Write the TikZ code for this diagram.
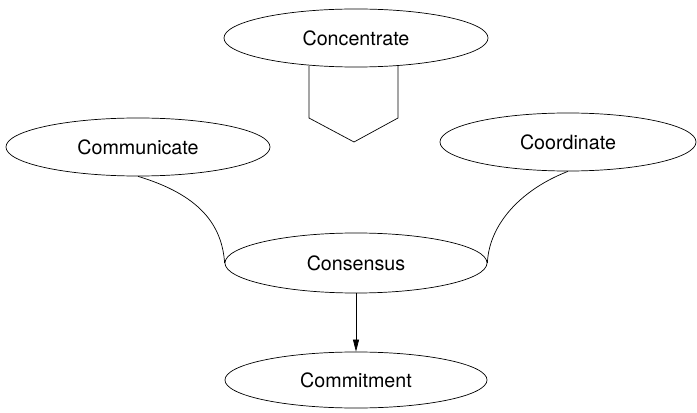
\documentclass[tikz,border=0pt]{standalone}
\usepackage{fontspec}
\setmainfont{TeX Gyre Heros}
\usepackage{xcolor}
\usetikzlibrary{shapes.geometric,arrows.meta}

\begin{document}
\begin{tikzpicture}[x=0.025cm,y=-0.025cm,line width=0.5pt,
  idea/.style={ellipse,draw,inner sep=0pt,minimum width=6.6cm,minimum height=1.45cm,
    font=\fontsize{14}{17}\selectfont}]
  \useasboundingbox (0,0) rectangle (697,413);
  \node[idea] (conc) at (356,38) {Concentrate};
  \node[idea] (comm) at (138,147) {Communicate};
  \node[idea,minimum width=6.4cm] (coord) at (568,142) {Coordinate};
  \node[idea,minimum width=6.55cm,minimum height=1.5cm] (cons) at (356,263) {Consensus};
  \node[idea,minimum width=6.55cm,minimum height=1.4cm] (commit) at (356,380) {Commitment};
  % pentagon under Concentrate
  \draw (309,66) -- (309,118) -- (354,142) -- (398,118) -- (398,66);
  \draw (comm.south) .. controls (200,195) and (222,225) .. (cons.west);
  \draw (coord.south) .. controls (520,190) and (489,225) .. (cons.east);
  \draw[-{Triangle[length=0.3cm,width=0.15cm]}] (cons.south) -- (commit.north);
\end{tikzpicture}
\end{document}
